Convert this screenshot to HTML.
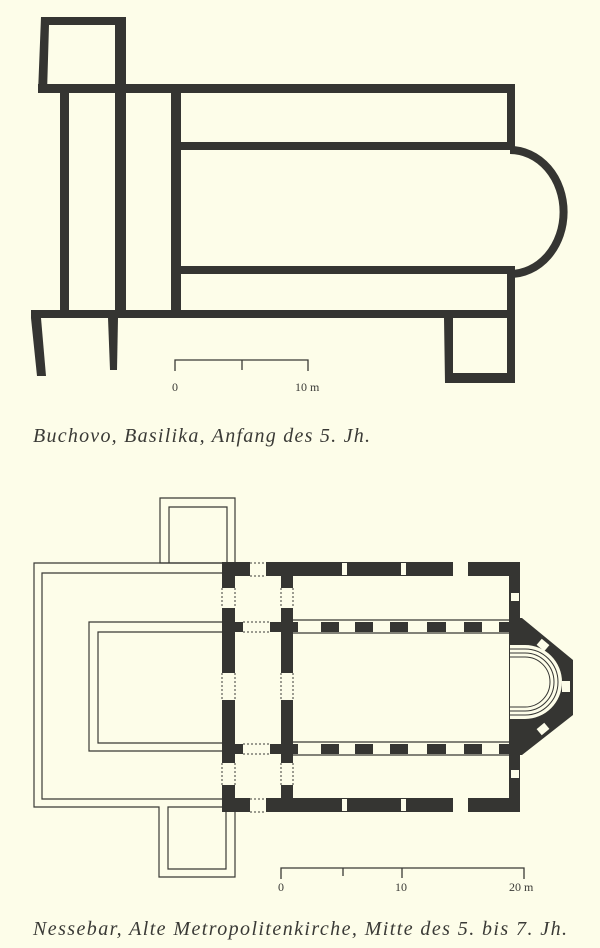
<!DOCTYPE html>
<html><head><meta charset="utf-8"><style>
html,body{margin:0;padding:0;background:#fdfde9;}
svg{display:block}
.cap{font-family:"Liberation Serif",serif;font-style:italic;font-size:20px;fill:#3a3a36}
.lbl{font-family:"Liberation Serif",serif;font-size:12px;fill:#3a3a36}
</style></head><body>
<svg width="600" height="948" viewBox="0 0 600 948" xmlns="http://www.w3.org/2000/svg">
<rect width="600" height="948" fill="#fdfde9"/>
<g fill="#353532">
<polygon points="41,17 124,17 124,93 115,93 115,25 49,25 47,93 38,93"/>
<rect x="38" y="84" width="477" height="9"/>
<rect x="507" y="84" width="8" height="66"/>
<rect x="172" y="142" width="343" height="8"/>
<rect x="172" y="266" width="343" height="8"/>
<rect x="507" y="266" width="8" height="52"/>
<rect x="31" y="310" width="484" height="8"/>
<rect x="60" y="93" width="9" height="217"/>
<rect x="115" y="17" width="11" height="301"/>
<rect x="171" y="93" width="10" height="217"/>
<polygon points="108,318 118,318 117,370 110,370"/>
<polygon points="31,318 41,318 46,376 37,376"/>
<polygon points="444,318 453,318 453,373 507,373 507,318 515,318 515,383 445,383"/>
</g>
<path d="M510,150 A51,59 0 0 1 510,274" fill="none" stroke="#353532" stroke-width="8"/>
<g stroke="#3a3a36" stroke-width="1.3" fill="none">
<path d="M175,371 V360 H308 V371 M242,360 V370"/>
</g>
<text class="lbl" x="172" y="391">0</text>
<text class="lbl" x="295" y="391">10 m</text>
<text class="cap" x="33" y="442" textLength="337" lengthAdjust="spacing">Buchovo, Basilika, Anfang des 5. Jh.</text>

<g fill="none" stroke="#3a3a36" stroke-width="1.2">
<path d="M222,563 H160 V498 H235 V563"/>
<path d="M222,573 H42 V799 H222"/>
<path d="M169,563 V507 H227 V563"/>
<path d="M222,563 H34 V807 H159 V877 H235 V812"/>
<path d="M222,807 H168 V869 H226 V812"/>
<path d="M222,622 H89 V751 H222"/>
<path d="M222,632 H98 V743 H222"/>
<path d="M292,620 H509 M292,633 H509 M292,742 H509 M292,755 H509"/>
</g>
<g fill="#353532">
<rect x="222" y="562" width="28" height="14"/>
<rect x="266" y="562" width="187" height="14"/>
<rect x="468" y="562" width="52" height="14"/>
<rect x="222" y="798" width="28" height="14"/>
<rect x="266" y="798" width="187" height="14"/>
<rect x="468" y="798" width="52" height="14"/>
<rect x="222" y="562" width="13" height="26"/>
<rect x="222" y="608" width="13" height="65"/>
<rect x="222" y="700" width="13" height="63"/>
<rect x="222" y="785" width="13" height="27"/>
<rect x="281" y="576" width="12" height="12"/>
<rect x="281" y="608" width="12" height="65"/>
<rect x="281" y="700" width="12" height="63"/>
<rect x="281" y="785" width="12" height="13"/>
<rect x="235" y="622" width="8" height="10"/>
<rect x="270" y="622" width="28" height="10"/>
<rect x="235" y="744" width="8" height="10"/>
<rect x="270" y="744" width="28" height="10"/>
<rect x="321" y="622" width="18" height="10"/><rect x="355" y="622" width="18" height="10"/>
<rect x="390" y="622" width="18" height="10"/><rect x="427" y="622" width="19" height="10"/>
<rect x="464" y="622" width="18" height="10"/><rect x="499" y="622" width="11" height="10"/>
<rect x="321" y="744" width="18" height="10"/><rect x="355" y="744" width="18" height="10"/>
<rect x="390" y="744" width="18" height="10"/><rect x="427" y="744" width="19" height="10"/>
<rect x="464" y="744" width="18" height="10"/><rect x="499" y="744" width="11" height="10"/>
<rect x="509" y="562" width="11" height="58"/>
<rect x="509" y="753" width="11" height="59"/>
<path d="M509,618 L522,618 L573,660 L573,715 L522,755 L509,755 Z M510,645 L525,645 A37,37 0 0 1 525,719 L510,719 Z" fill-rule="evenodd"/>
</g>
<g fill="#fdfde9">
<rect x="342" y="563" width="5" height="12"/><rect x="401" y="563" width="5" height="12"/>
<rect x="342" y="799" width="5" height="12"/><rect x="401" y="799" width="5" height="12"/>
<rect x="511" y="593" width="8" height="8"/><rect x="511" y="770" width="8" height="8"/>
<rect x="562" y="681" width="8" height="11"/>
<rect x="538" y="641" width="10" height="8" transform="rotate(40 543 645)"/>
<rect x="538" y="725" width="10" height="8" transform="rotate(-40 543 729)"/>
</g>
<g fill="none" stroke="#353532" stroke-width="1">
<path d="M510,649 H525 A33,33 0 0 1 525,715 H510"/>
<path d="M510,653 H525 A29,29 0 0 1 525,711 H510"/>
<path d="M510,657 H525 A25,25 0 0 1 525,707 H510"/>
</g>
<g fill="none" stroke="#3a3a36" stroke-width="1" stroke-dasharray="2,2">
<path d="M250,563 H266 M250,576 H266 M250,799 H266 M250,812 H266"/>
<path d="M243,622 H270 M243,632 H270 M243,744 H270 M243,754 H270"/>
<path d="M222,588 V608 M235,588 V608 M222,673 V700 M235,673 V700 M222,763 V785 M235,763 V785"/>
<path d="M281,588 V608 M293,588 V608 M281,673 V700 M293,673 V700 M281,763 V785 M293,763 V785"/>
</g>
<g stroke="#3a3a36" stroke-width="1.3" fill="none">
<path d="M281,879 V868 H524 V879 M343,868 V876 M402,868 V878"/>
</g>
<text class="lbl" x="278" y="891">0</text>
<text class="lbl" x="395" y="891">10</text>
<text class="lbl" x="509" y="891">20 m</text>
<text class="cap" x="33" y="935" textLength="534" lengthAdjust="spacing">Nessebar, Alte Metropolitenkirche, Mitte des 5. bis 7. Jh.</text>
</svg>
</body></html>
